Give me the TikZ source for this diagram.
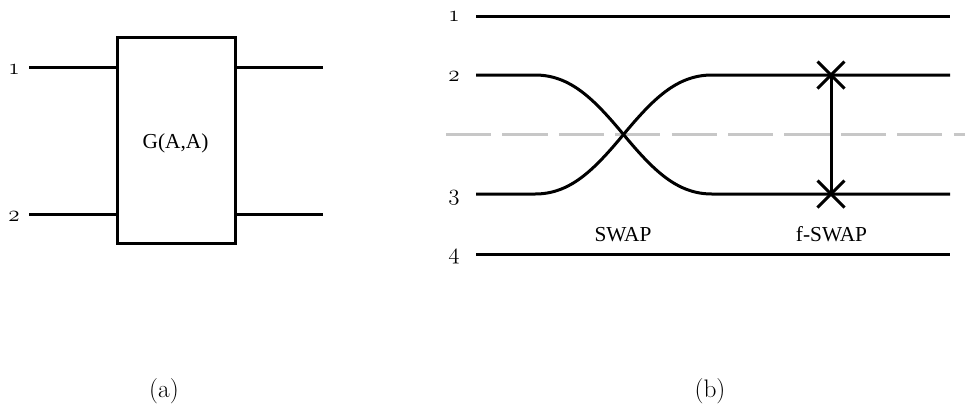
\documentclass[tikz,border=0pt]{standalone}
\usepackage{fontspec}
\newfontfamily\labelfont{Liberation Serif}
\usetikzlibrary{shapes.misc}
\tikzset{
  wire/.style={line width=2.25pt,black},
  boxstyle/.style={draw=black,line width=2.25pt,fill=white,minimum width=88.5pt,minimum height=154.5pt,inner sep=0pt},
  numlabel/.style={inner sep=0pt,font=\fontsize{19}{22}\selectfont},
  textlabel/.style={inner sep=0pt,anchor=base,font=\labelfont\fontsize{16}{18}\selectfont},
  caplabel/.style={inner sep=0pt,font=\fontsize{19}{22}\selectfont},
  crossmark/.style={cross out,draw=black,line width=2.25pt,minimum size=18pt,inner sep=0pt},
  cutline/.style={line width=2.25pt,draw=black!22,dash pattern=on 33.9pt off 8.4pt},
}
\begin{document}
\begin{tikzpicture}[x=.75pt,y=-.75pt]
\useasboundingbox (0,0) rectangle (965,405);
% (a)
\node[boxstyle] (G) at (176,140) {};
\node[textlabel] (Gt) at (175.5,148) {G(A,A)};
\coordinate (a1) at (29,67);
\coordinate (a2) at (29,214);
\coordinate (a3) at (323,67);
\coordinate (a4) at (323,214);
\draw[wire] (a1) -- (a1-|G.west);
\draw[wire] (a2) -- (a2-|G.west);
\draw[wire] (a3-|G.east) -- (a3);
\draw[wire] (a4-|G.east) -- (a4);
\node[numlabel] (l1) at (14,70) {$\mathnormal{1}$};
\node[numlabel] (l2) at (14,217) {$\mathnormal{2}$};
\node[caplabel] (capa) at (164,391) {(a)};
% (b)
\draw[cutline] (446,134) coordinate (d1) -- (965,134) coordinate (d2);
\coordinate (w1a) at (476,16); \coordinate (w1b) at (950,16);
\coordinate (w2a) at (476,75); \coordinate (w2b) at (950,75);
\coordinate (w3a) at (476,194); \coordinate (w3b) at (950,194);
\coordinate (w4a) at (476,254); \coordinate (w4b) at (950,254);
\coordinate (s1) at (535,75); \coordinate (s2) at (712,75);
\coordinate (s3) at (535,194); \coordinate (s4) at (712,194);
\coordinate (mid) at (623.5,134.5);
\node[crossmark] (x1) at (831,75) {};
\node[crossmark] (x2) at (831,194) {};
\draw[wire] (w1a) -- (w1b);
\draw[wire] (w4a) -- (w4b);
\draw[wire] (w2a) -- (s1) .. controls (570,75) and (593.5,98.5) .. (mid) .. controls (653.5,170.5) and (677,194) .. (s4) -- (w3b);
\draw[wire] (w3a) -- (s3) .. controls (570,194) and (593.5,170.5) .. (mid) .. controls (653.5,98.5) and (677,75) .. (s2) -- (w2b);
\draw[wire] (x1.center) -- (x2.center);
\node[numlabel] (r1) at (454,17) {$\mathnormal{1}$};
\node[numlabel] (r2) at (454,77) {$\mathnormal{2}$};
\node[numlabel] (r3) at (454,198) {$\mathnormal{3}$};
\node[numlabel] (r4) at (454,257) {$\mathnormal{4}$};
\node[textlabel] (sw) at (623,241.5) {SWAP};
\node[textlabel] (fs) at (831.5,241.5) {f-SWAP};
\node[caplabel] (capb) at (710,391) {(b)};
\end{tikzpicture}
\end{document}
